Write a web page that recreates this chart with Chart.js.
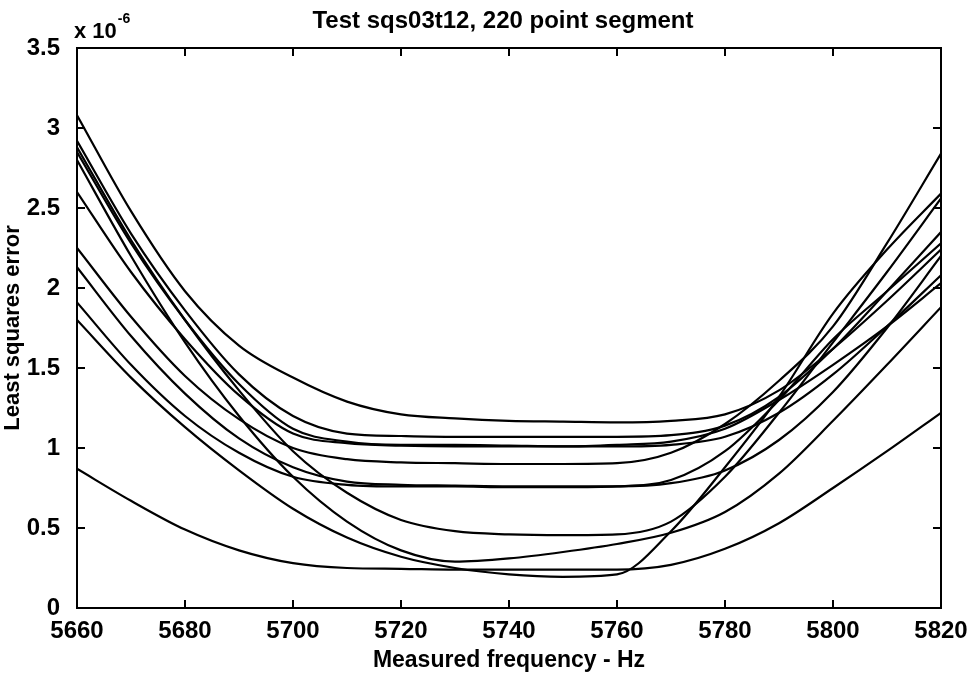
<!DOCTYPE html>
<html>
<head>
<meta charset="utf-8">
<script src="https://cdn.jsdelivr.net/npm/chart.js@4.4.1/dist/chart.umd.min.js"></script>
<style>
  html, body { margin: 0; padding: 0; background: #fff; }
  #wrap { width: 977px; height: 675px; }
</style>
</head>
<body>
<div id="wrap"><canvas id="lsq-chart"></canvas></div>
<script>
// trial frequencies (Hz)
const freqs = [5660, 5670, 5680, 5690, 5700, 5710, 5720, 5730, 5740, 5750, 5760, 5770, 5780, 5790, 5800, 5810, 5820];

// least squares error, units of 1e-6, one array per record
const curveA  = [3.08, 2.48, 1.98, 1.64, 1.44, 1.29, 1.21, 1.185, 1.17, 1.165, 1.16, 1.17, 1.21, 1.36, 1.62, 1.92, 2.24];
const curveB  = [2.92, 2.34, 1.86, 1.46, 1.20, 1.09, 1.075, 1.07, 1.07, 1.07, 1.07, 1.08, 1.14, 1.32, 1.62, 1.98, 2.35];
const curveC1 = [2.85, 2.28, 1.80, 1.40, 1.12, 1.04, 1.02, 1.02, 1.015, 1.01, 1.01, 1.02, 1.07, 1.22, 1.46, 1.76, 2.08];
const curveC2 = [2.60, 2.10, 1.68, 1.33, 1.09, 1.03, 1.015, 1.01, 1.01, 1.01, 1.02, 1.04, 1.12, 1.30, 1.52, 1.76, 2.03];
const curveD  = [2.25, 1.82, 1.45, 1.18, 1.00, 0.93, 0.91, 0.905, 0.90, 0.90, 0.905, 0.97, 1.15, 1.42, 1.76, 2.28, 2.84];
const curveE1 = [2.13, 1.70, 1.34, 1.06, 0.88, 0.79, 0.77, 0.765, 0.76, 0.76, 0.76, 0.78, 0.86, 1.05, 1.35, 1.75, 2.20];
const curveE2 = [1.91, 1.52, 1.20, 0.97, 0.82, 0.77, 0.76, 0.76, 0.755, 0.755, 0.76, 0.80, 0.98, 1.30, 1.68, 1.98, 2.28];
const curveF  = [2.88, 2.30, 1.80, 1.36, 0.98, 0.72, 0.55, 0.48, 0.46, 0.455, 0.46, 0.54, 0.82, 1.22, 1.66, 2.10, 2.56];
const curveG  = [2.80, 2.20, 1.66, 1.20, 0.82, 0.54, 0.36, 0.29, 0.31, 0.35, 0.40, 0.47, 0.60, 0.84, 1.17, 1.52, 1.88];
const curveI  = [1.80, 1.44, 1.13, 0.86, 0.62, 0.44, 0.32, 0.25, 0.21, 0.195, 0.21, 0.48, 0.88, 1.32, 1.84, 2.24, 2.59];
const curveH  = [0.87, 0.67, 0.49, 0.36, 0.28, 0.25, 0.245, 0.24, 0.24, 0.24, 0.24, 0.27, 0.37, 0.53, 0.75, 0.98, 1.22];

const xTicks = [5660, 5680, 5700, 5720, 5740, 5760, 5780, 5800, 5820];
const yTicks = [0, 0.5, 1, 1.5, 2, 2.5, 3, 3.5];
const yTickLabels = ['0', '0.5', '1', '1.5', '2', '2.5', '3', '3.5'];

const titleText = 'Test sqs03t12, 220 point segment';
const FONT = 'Liberation Sans, Arial, Helvetica, sans-serif';

const allCurves = [curveA, curveB, curveC1, curveC2, curveD, curveE1, curveE2, curveF, curveG, curveI, curveH];

const datasets = allCurves.map(c => ({
  data: freqs.map((f, i) => ({ x: f, y: c[i] })),
  borderColor: '#000',
  borderWidth: 2.2,
  pointRadius: 0,
  fill: false,
  cubicInterpolationMode: 'monotone',
}));

// matlab style box with inward ticks, title and the "x 10^-6" exponent
const boxPlugin = {
  id: 'boxPlugin',
  afterDraw(chart) {
    const { ctx, chartArea: a, scales } = chart;
    const len = 8;
    ctx.save();
    ctx.strokeStyle = '#000';
    ctx.lineWidth = 2;
    ctx.strokeRect(a.left, a.top, a.right - a.left, a.bottom - a.top);
    ctx.beginPath();
    xTicks.forEach(v => {
      const px = scales.x.getPixelForValue(v);
      ctx.moveTo(px, a.bottom); ctx.lineTo(px, a.bottom - len);
      ctx.moveTo(px, a.top); ctx.lineTo(px, a.top + len);
    });
    yTicks.forEach(v => {
      const py = scales.y.getPixelForValue(v);
      ctx.moveTo(a.left, py); ctx.lineTo(a.left + len, py);
      ctx.moveTo(a.right, py); ctx.lineTo(a.right - len, py);
    });
    ctx.stroke();

    ctx.fillStyle = '#000';
    ctx.textBaseline = 'alphabetic';
    ctx.textAlign = 'center';
    ctx.font = 'bold 24px ' + FONT;
    ctx.fillText(titleText, (a.left + a.right) / 2 - 6, 28);

    ctx.textAlign = 'left';
    ctx.font = 'bold 22px ' + FONT;
    ctx.fillText('x 10', a.left - 3, a.top - 10);
    const w = ctx.measureText('x 10').width;
    ctx.font = 'bold 14px ' + FONT;
    ctx.fillText('-6', a.left - 3 + w + 1, a.top - 25);
    ctx.restore();
  }
};

new Chart(document.getElementById('lsq-chart'), {
  type: 'line',
  data: { datasets },
  plugins: [boxPlugin],
  options: {
    responsive: true,
    maintainAspectRatio: false,
    animation: false,
    layout: { padding: { right: 36, bottom: 0, left: 0, top: 48 } },
    plugins: {
      legend: { display: false },
      tooltip: { enabled: false },
      title: { display: false },
    },
    scales: {
      x: {
        type: 'linear',
        min: 5660,
        max: 5820,
        afterBuildTicks: s => { s.ticks = xTicks.map(v => ({ value: v })); },
        afterFit: s => { s.height = 67; },
        grid: { display: false },
        border: { display: false },
        ticks: {
          color: '#000',
          font: { family: FONT, size: 24, weight: 'bold' },
          padding: 1,
          maxRotation: 0,
          callback: v => String(v),
        },
        title: {
          display: true,
          text: 'Measured frequency - Hz',
          color: '#000',
          font: { family: FONT, size: 23, weight: 'bold' },
          padding: { top: 0, bottom: 1 },
        },
      },
      y: {
        min: 0,
        max: 3.5,
        afterBuildTicks: s => { s.ticks = yTicks.map(v => ({ value: v })); },
        afterFit: s => { s.width = 77; },
        grid: { display: false },
        border: { display: false },
        ticks: {
          color: '#000',
          font: { family: FONT, size: 24, weight: 'bold' },
          padding: 9,
          callback: v => yTickLabels[yTicks.indexOf(v)],
        },
        title: {
          display: true,
          text: 'Least squares error',
          color: '#000',
          font: { family: FONT, size: 22, weight: 'bold' },
          padding: { top: 0, bottom: 2 },
        },
      },
    },
  },
});
</script>
</body>
</html>
